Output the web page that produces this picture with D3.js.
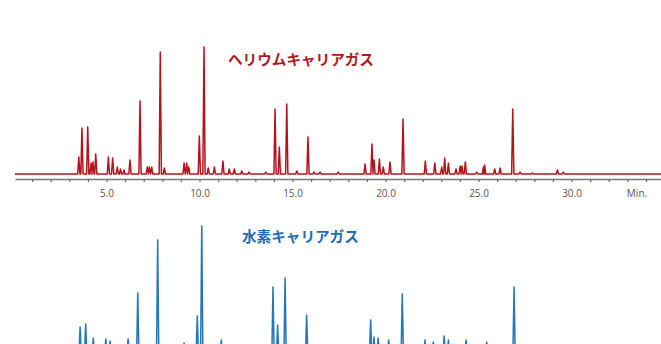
<!DOCTYPE html>
<html>
<head>
<meta charset="utf-8">
<script src="https://cdn.jsdelivr.net/npm/d3@7"></script>
<style>
  body { margin: 0; background: #fff; }
  svg { display: block; }
  .title { font-family: 'Noto Sans CJK JP', sans-serif; font-weight: 700; font-size: 14.6px; }
  .axis text { font-family: 'Open Sans', 'DejaVu Sans', sans-serif; font-size: 10px; fill: #555; }
</style>
</head>
<body>
<svg id="chart" width="661" height="344"></svg>
<script>
// helium carrier gas: retention time (min) and peak height
const heTimes = [3.51, 3.68, 3.99, 4.17, 4.27, 4.42, 5.10, 5.33, 5.58, 5.75, 5.94, 6.26, 6.80,
  7.19, 7.30, 7.43, 7.89, 8.11, 9.17, 9.31, 9.42, 9.99, 10.24, 10.47, 10.80, 11.26, 11.60,
  11.87, 12.27, 12.66, 13.56, 14.06, 14.29, 14.69, 15.23, 15.83, 16.15, 16.48, 17.45, 18.90,
  19.27, 19.38, 19.67, 19.88, 20.24, 20.94, 22.14, 22.65, 23.02, 23.18, 23.38, 23.79, 24.01,
  24.11, 24.29, 24.90, 25.26, 25.33, 25.87, 26.16, 26.84, 27.23, 27.90, 29.24, 29.56];
const heHeights = [17, 46, 47, 11, 12, 20, 17, 16, 7, 5, 4, 14, 73,
  7, 7, 7, 122, 6, 11, 11, 7, 38, 127, 6, 7, 13, 5,
  5, 3, 2, 2, 65, 27, 70, 3, 37, 2, 2, 2, 10,
  30, 14, 15, 7, 12, 55, 13, 11, 7, 16, 11, 5, 8,
  8, 12, 2, 7, 9, 5, 6, 65, 2, 1, 4, 2];

// hydrogen carrier gas
const h2Times = [3.58, 3.88, 4.29, 4.96, 5.19, 6.16, 6.68, 7.75, 9.17, 9.88, 10.12, 11.17,
  13.95, 14.20, 14.60, 15.76, 19.20, 19.38, 19.60, 20.17, 20.90, 22.12, 22.57, 23.15, 23.38,
  24.33, 25.44, 26.91];
const h2Heights = [26, 29, 15, 14, 12, 14, 60, 113, 10, 37, 127, 13,
  66, 28, 75, 38, 33, 16, 15, 13, 59, 13, 11, 17, 13,
  13, 11, 66];

const majorTicks = [5, 10, 15, 20, 25, 30];
const minorTicks = d3.range(1, 35);

const heColor = '#b5131b';
const h2Color = '#2477b6';

const svg = d3.select('#chart');

const x = d3.scaleLinear().domain([0.08, 34.81]).range([15, 661]);

// turn a list of peaks into a trace: baseline, then a narrow spike per peak
const tracePoints = (times, heights) => {
  const w = 0.06;
  const pts = [[0.08, 0]];
  times.forEach((t, i) => {
    pts.push([t - w, 0], [t, heights[i]], [t + w, 0]);
  });
  pts.push([34.81, 0]);
  return pts;
};

const drawTrace = (times, heights, baseline, color) => {
  const y = d3.scaleLinear().domain([0, 130]).range([baseline, baseline - 130]);
  const line = d3.line().x((d) => x(d[0])).y((d) => y(d[1]));
  svg
    .append('path')
    .datum(tracePoints(times, heights))
    .attr('d', line)
    .attr('fill', 'none')
    .attr('stroke', color)
    .attr('stroke-width', 1.5)
    .attr('stroke-linejoin', 'round');
};

drawTrace(heTimes, heHeights, 174, heColor);
drawTrace(h2Times, h2Heights, 353, h2Color);

// time axis under the helium trace
const axis = svg
  .append('g')
  .attr('class', 'axis')
  .attr('transform', 'translate(0,179)')
  .call(
    d3
      .axisBottom(x)
      .tickValues(minorTicks)
      .tickSize(3)
      .tickSizeOuter(0)
      .tickPadding(8)
      .tickFormat((d) => (majorTicks.includes(d) ? d.toFixed(1) : ''))
  );
axis.select('.domain').attr('stroke', '#7a7a7a').attr('stroke-width', 1.5);
axis.selectAll('.tick line').attr('stroke', '#666').attr('stroke-width', 1.2);

axis
  .append('text')
  .attr('x', 637)
  .attr('y', 11)
  .attr('dy', '0.71em')
  .attr('text-anchor', 'middle')
  .text('Min.');

svg
  .append('text')
  .attr('class', 'title')
  .attr('x', 228)
  .attr('y', 65)
  .attr('fill', '#ad1a1e')
  .text('ヘリウムキャリアガス');

svg
  .append('text')
  .attr('class', 'title')
  .attr('x', 242)
  .attr('y', 242)
  .attr('fill', '#1c6cb8')
  .text('水素キャリアガス');
</script>
</body>
</html>
